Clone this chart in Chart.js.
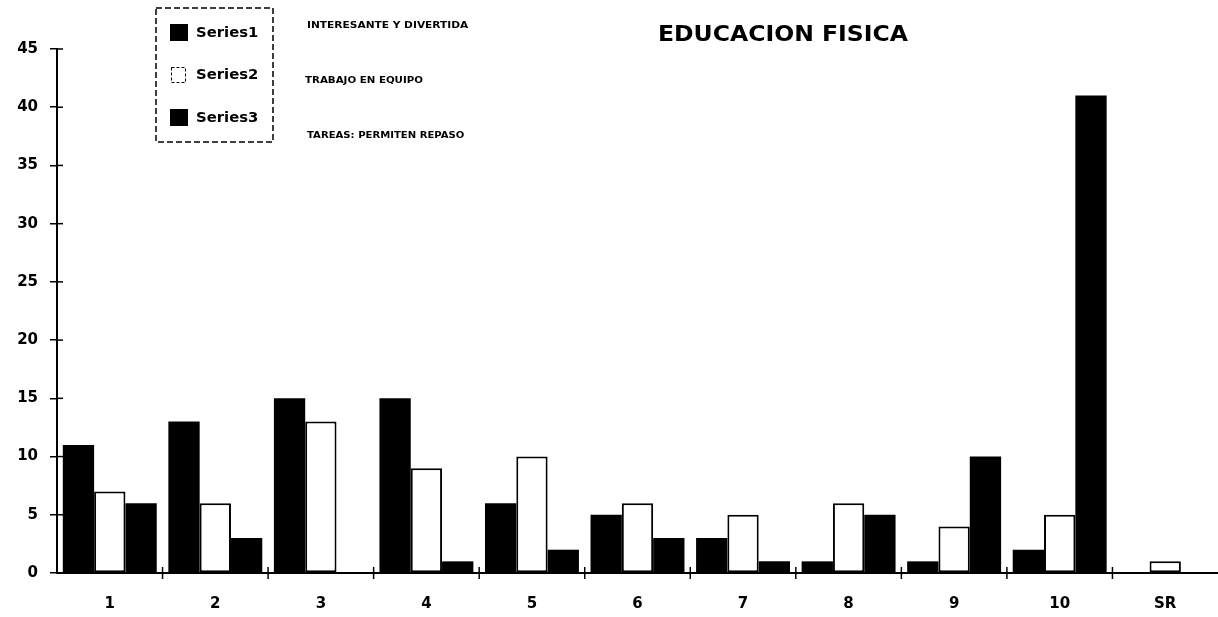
<!DOCTYPE html>
<html><head><meta charset="utf-8">
<script src="https://cdn.jsdelivr.net/npm/chart.js@4/dist/chart.umd.min.js"></script>
<style>html,body{margin:0;padding:0;background:#fff;}canvas{display:block;}</style>
</head><body>
<canvas id="c" width="1218" height="617"></canvas>
<script>
const categories = ['1','2','3','4','5','6','7','8','9','10','SR'];
const series1 = [11, 13, 15, 15, 6, 5, 3, 1, 1, 2, 0];
const series2 = [7, 6, 13, 9, 10, 6, 5, 6, 4, 5, 1];
const series3 = [6, 3, 0, 1, 2, 3, 1, 5, 10, 41, 0];
const seriesNames = ['Series1', 'Series2', 'Series3'];
const seriesNotes = ['INTERESANTE Y DIVERTIDA', 'TRABAJO EN EQUIPO', 'TAREAS: PERMITEN REPASO'];
const yTicks = [0, 5, 10, 15, 20, 25, 30, 35, 40, 45];
const titleText = 'EDUCACION FISICA';

const FONT = '"DejaVu Sans", "Liberation Sans", sans-serif';

function wideText(ctx, text, x, y, sx, align) {
  ctx.save();
  ctx.translate(x, y);
  ctx.scale(sx, 1);
  ctx.textAlign = align;
  ctx.fillText(text, 0, 0);
  ctx.restore();
}

const overlay = {
  id: 'overlay',
  afterDraw(chart) {
    const ctx = chart.ctx;
    ctx.save();
    ctx.fillStyle = '#000';
    ctx.textBaseline = 'middle';
    // title
    ctx.font = 'bold 21px ' + FONT;
    wideText(ctx, titleText, 783, 36, 1.12, 'center');
    // legend box
    ctx.strokeStyle = '#000';
    ctx.lineWidth = 1.5;
    ctx.setLineDash([6, 3]);
    ctx.strokeRect(156, 8, 117, 134);
    ctx.setLineDash([]);
    const rows = [33, 75, 118];
    chart.data.datasets.forEach((ds, i) => {
      const y = rows[i];
      if (ds.backgroundColor === '#ffffff') {
        ctx.fillStyle = '#fff';
        ctx.fillRect(171, y - 8, 15, 16);
        ctx.setLineDash([3, 2]);
        ctx.lineWidth = 1;
        ctx.strokeRect(171.5, y - 7.5, 14, 15);
        ctx.setLineDash([]);
      } else {
        ctx.fillStyle = '#000';
        ctx.fillRect(170, y - 9, 18, 17);
      }
      ctx.fillStyle = '#000';
      ctx.font = 'bold 14px ' + FONT;
      wideText(ctx, ds.label, 196, y, 1.06, 'left');
    });
    ctx.font = 'bold 9px ' + FONT;
    wideText(ctx, seriesNotes[0], 307, 26, 1.18, 'left');
    wideText(ctx, seriesNotes[1], 305, 81, 1.14, 'left');
    wideText(ctx, seriesNotes[2], 307, 136, 1.12, 'left');
    // y-axis crosses
    const ys = chart.scales.y;
    ctx.lineWidth = 1.5;
    yTicks.forEach(v => {
      const py = ys.getPixelForValue(v);
      ctx.beginPath();
      ctx.moveTo(ys.right, py);
      ctx.lineTo(ys.right + 6, py);
      ctx.stroke();
    });
    // x-axis crosses at category boundaries
    const xs = chart.scales.x;
    const base = ys.getPixelForValue(0);
    for (let i = 1; i < categories.length; i++) {
      const px = (xs.getPixelForValue(i - 1) + xs.getPixelForValue(i)) / 2;
      ctx.beginPath();
      ctx.moveTo(px, base - 6);
      ctx.lineTo(px, base + 6);
      ctx.stroke();
    }
    ctx.restore();
  }
};

const colors = ['#000000', '#ffffff', '#000000'];
const allSeries = [series1, series2, series3];
new Chart(document.getElementById('c'), {
  type: 'bar',
  data: {
    labels: categories,
    datasets: allSeries.map((d, i) => ({
      label: seriesNames[i],
      data: d,
      backgroundColor: colors[i],
      borderColor: '#000',
      borderWidth: i === 1 ? 2 : 0,
      borderSkipped: false,
      categoryPercentage: 0.89,
      barPercentage: 1.0
    }))
  },
  options: {
    responsive: false,
    animation: false,
    layout: { padding: { top: 49, right: 0, left: 0, bottom: 0 } },
    plugins: { legend: { display: false }, title: { display: false }, tooltip: { enabled: false } },
    scales: {
      x: {
        grid: { display: true, drawOnChartArea: false, offset: true, tickLength: 0, color: '#000' },
        border: { display: true, color: '#000', width: 2 },
        ticks: { color: '#000', padding: 22, font: { family: FONT, weight: 'bold', size: 15 } },
        afterFit(s) { s.height = 44; }
      },
      y: {
        min: 0, max: 45,
        afterBuildTicks(s) { s.ticks = yTicks.map(v => ({ value: v })); },
        grid: { display: true, drawOnChartArea: false, tickLength: 7, color: '#000', lineWidth: 1.5 },
        border: { display: true, color: '#000', width: 2 },
        ticks: { color: '#000', padding: 12, font: { family: FONT, weight: 'bold', size: 15 } },
        afterFit(s) { s.width = 57; }
      }
    }
  },
  plugins: [overlay]
});
</script>
</body></html>
